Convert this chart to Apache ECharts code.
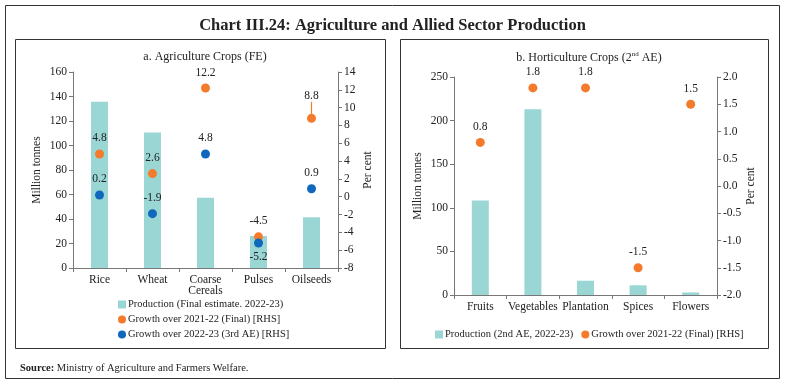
<!DOCTYPE html>
<html><head><meta charset="utf-8">
<script src="https://cdn.jsdelivr.net/npm/echarts@6/dist/echarts.min.js"></script>
<style>html,body{margin:0;padding:0;background:#fff}#c{width:785px;height:383px}</style>
</head><body><div id="c"></div>
<script>
// Panel a data
const agriCats = ['Rice', 'Wheat', 'Coarse\nCereals', 'Pulses', 'Oilseeds'];
const agriProd = [135.8, 110.6, 57.3, 26.1, 41.4];
const agriGrowthFinal = [4.8, 2.6, 12.2, -4.5, 8.8];
const agriGrowth3rdAE = [0.2, -1.9, 4.8, -5.2, 0.9];
const agriLeftTicks = {min: 0, max: 160, interval: 20};
const agriRightTicks = {min: -8, max: 14, interval: 2};
// Panel b data
const hortiCats = ['Fruits', 'Vegetables', 'Plantation', 'Spices', 'Flowers'];
const hortiProd = [108.3, 212.9, 16.4, 11.1, 2.9];
const hortiGrowth = [0.8, 1.8, 1.8, -1.5, 1.5];
const hortiLeftTicks = {min: 0, max: 250, interval: 50};
const hortiRightTicks = {min: -2, max: 2, interval: 0.5};

const FONT = 'Liberation Serif';
const TXT = '#222';
const AX = '#777';
const TEAL = '#99d6d4';
const ORANGE = '#f47a2c';
const BLUE = '#1068bd';

const chart = echarts.init(document.getElementById('c'), null, {renderer: 'canvas'});

function yAx(gi, t, pos, name, fmt) {
  return {
    type: 'value', gridIndex: gi, position: pos, min: t.min, max: t.max, interval: t.interval,
    name: name, nameLocation: 'middle', nameRotate: 90, nameGap: pos === 'left' ? 30 : 24,
    nameTextStyle: {fontFamily: FONT, fontSize: 11.5, color: TXT},
    axisLine: {show: true, lineStyle: {color: AX}},
    axisTick: {show: true, length: 4, lineStyle: {color: AX}},
    splitLine: {show: false},
    axisLabel: {fontFamily: FONT, fontSize: 11.5, color: TXT, margin: 6, formatter: fmt}
  };
}
function xAx(gi, cats) {
  return {
    type: 'category', gridIndex: gi, data: cats,
    axisLine: {show: true, lineStyle: {color: AX}},
    axisTick: {show: true, length: 4, lineStyle: {color: AX}},
    axisLabel: {fontFamily: FONT, fontSize: 11.5, color: TXT, margin: 6, lineHeight: 11, interval: 0}
  };
}
const lbl = (pos) => ({show: true, position: pos, distance: 5, fontFamily: FONT, fontSize: 11.5, color: TXT});

const option = {
  animation: false,
  backgroundColor: '#fff',
  title: [
    {text: 'Chart III.24: Agriculture and Allied Sector Production', left: 'center', top: 12,
     textStyle: {fontFamily: FONT, fontSize: 16.5, fontWeight: 'bold', color: TXT}},
    {text: 'a. Agriculture Crops (FE)', left: 200, textAlign: 'center', top: 46,
     textStyle: {fontFamily: FONT, fontSize: 12, fontWeight: 'normal', color: TXT}},
    {text: 'b. Horticulture Crops (2{sup|nd} AE)', left: 584, textAlign: 'center', top: 46,
     textStyle: {fontFamily: FONT, fontSize: 12, fontWeight: 'normal', color: TXT,
       rich: {sup: {fontFamily: FONT, fontSize: 7, verticalAlign: 'top', padding: [0, 0, 6, 0], color: TXT}}}},
    {text: '{b|Source:} Ministry of Agriculture and Farmers Welfare.', left: 15, top: 358,
     textStyle: {fontFamily: FONT, fontSize: 10.5, fontWeight: 'normal', color: TXT,
       rich: {b: {fontFamily: FONT, fontSize: 10.5, fontWeight: 'bold', color: TXT}}}}
  ],
  graphic: [
    {type: 'rect', shape: {x: 5.5, y: 5.5, width: 774, height: 373}, style: {fill: null, stroke: '#333', lineWidth: 1}},
    {type: 'rect', shape: {x: 15.5, y: 39.5, width: 370, height: 309}, style: {fill: null, stroke: '#333', lineWidth: 1}},
    {type: 'rect', shape: {x: 400.5, y: 39.5, width: 368, height: 309}, style: {fill: null, stroke: '#333', lineWidth: 1}}
  ],
  legend: [
    {orient: 'vertical', left: 113, top: 294, itemGap: 4, itemWidth: 8, itemHeight: 8,
     textStyle: {fontFamily: FONT, fontSize: 10.5, color: TXT, padding: [0, 0, 0, -3]},
     data: [{name: 'Production (Final estimate. 2022-23)', icon: 'rect'},
            {name: 'Growth over 2021-22 (Final) [RHS]', icon: 'circle'},
            {name: 'Growth over 2022-23 (3rd AE) [RHS]', icon: 'circle'}]},
    {orient: 'horizontal', left: 430, top: 324, itemGap: 8, itemWidth: 8, itemHeight: 8,
     textStyle: {fontFamily: FONT, fontSize: 10.5, color: TXT, padding: [0, 0, 0, -3]},
     data: [{name: 'Production (2nd AE, 2022-23)', icon: 'rect'},
            {name: 'Growth over 2021-22 (Final) [RHS] ', icon: 'circle'}]}
  ],
  grid: [
    {left: 73, right: 447, top: 72, bottom: 115},
    {left: 454, right: 68, top: 77, bottom: 88}
  ],
  xAxis: [xAx(0, agriCats), xAx(1, hortiCats)],
  yAxis: [
    yAx(0, agriLeftTicks, 'left', 'Million tonnes'),
    yAx(0, agriRightTicks, 'right', 'Per cent'),
    yAx(1, hortiLeftTicks, 'left', 'Million tonnes'),
    yAx(1, hortiRightTicks, 'right', 'Per cent', v => v.toFixed(1))
  ],
  series: [
    {name: 'Production (Final estimate. 2022-23)', type: 'bar', xAxisIndex: 0, yAxisIndex: 0,
     data: agriProd, barWidth: 17, itemStyle: {color: TEAL}},
    {name: 'Growth over 2021-22 (Final) [RHS]', type: 'scatter', xAxisIndex: 0, yAxisIndex: 1,
     data: agriGrowthFinal.map((v, i) => i === 4 ? {value: v, labelLine: {show: true}} : v),
     labelLine: {show: false, length2: 0, lineStyle: {color: ORANGE, width: 1.2}},
     labelLayout: (p) => p.dataIndex === 4 ? {dy: -7} : {},
     symbolSize: 9, itemStyle: {color: ORANGE, opacity: 1}, label: lbl('top'), z: 3},
    {name: 'Growth over 2022-23 (3rd AE) [RHS]', type: 'scatter', xAxisIndex: 0, yAxisIndex: 1,
     data: agriGrowth3rdAE.map((v, i) => i === 3 ? {value: v, label: {position: 'bottom', distance: 3}} : v),
     symbolSize: 9, itemStyle: {color: BLUE, opacity: 1}, label: lbl('top'), z: 3},
    {name: 'Production (2nd AE, 2022-23)', type: 'bar', xAxisIndex: 1, yAxisIndex: 2,
     data: hortiProd, barWidth: 17, itemStyle: {color: TEAL}},
    {name: 'Growth over 2021-22 (Final) [RHS] ', type: 'scatter', xAxisIndex: 1, yAxisIndex: 3,
     data: hortiGrowth, symbolSize: 9, itemStyle: {color: ORANGE, opacity: 1}, label: lbl('top'), z: 3}
  ]
};
chart.setOption(option);
</script></body></html>
